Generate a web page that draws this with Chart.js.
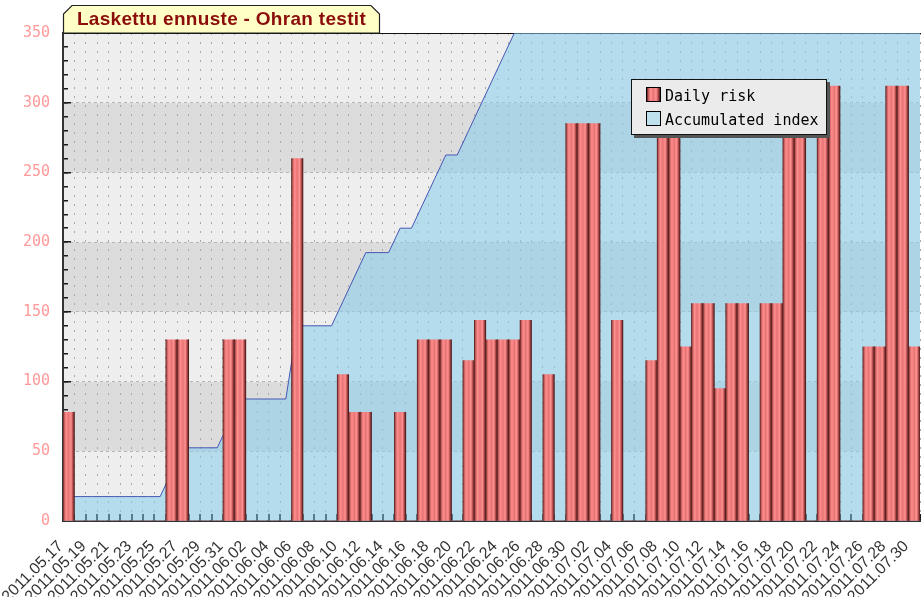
<!DOCTYPE html>
<html><head><meta charset="utf-8">
<script src="https://cdn.jsdelivr.net/npm/chart.js@4.4.1/dist/chart.umd.min.js"></script>
<style>
html,body{margin:0;padding:0;background:#fff;}
#wrap{position:relative;width:921px;height:597px;overflow:hidden;background:#fff;}
#c{position:absolute;left:0;top:0;}
#tab{position:absolute;left:0;top:0;}
#title{position:absolute;left:63px;top:8px;width:317px;height:28px;line-height:28px;text-align:center;font:bold 19px "Liberation Sans",Arial,sans-serif;color:#8c0c0c;letter-spacing:0.3px;white-space:nowrap;}
#legend{position:absolute;left:631px;top:79px;width:194px;height:54px;border:1px solid #111;background:#ebebeb;box-shadow:3px 3px 0 #555;font:15px "DejaVu Sans Mono",monospace;color:#000;}
.item{position:absolute;left:14px;height:16px;}
.sw{position:absolute;left:0;top:0;width:13px;height:13px;border:1px solid #000;}
.lab{position:absolute;left:19px;top:-1px;white-space:nowrap;line-height:20px;}
</style></head>
<body>
<div id="wrap">
<canvas id="c" width="921" height="597"></canvas>
<svg id="tab" width="400" height="40"><polygon points="63.5,33 63.5,14 72,5.5 371,5.5 379.5,14 379.5,33" fill="#ffffc6" stroke="#222" stroke-width="1.2"/></svg>
<div id="title">Laskettu ennuste - Ohran testit</div>
<div id="legend"></div>
</div>
<script>
const dates = [
'2011.05.17','2011.05.18','2011.05.19','2011.05.20','2011.05.21','2011.05.22','2011.05.23','2011.05.24','2011.05.25','2011.05.26',
'2011.05.27','2011.05.28','2011.05.29','2011.05.30','2011.05.31','2011.06.01','2011.06.02','2011.06.03','2011.06.04','2011.06.05',
'2011.06.06','2011.06.07','2011.06.08','2011.06.09','2011.06.10','2011.06.11','2011.06.12','2011.06.13','2011.06.14','2011.06.15',
'2011.06.16','2011.06.17','2011.06.18','2011.06.19','2011.06.20','2011.06.21','2011.06.22','2011.06.23','2011.06.24','2011.06.25',
'2011.06.26','2011.06.27','2011.06.28','2011.06.29','2011.06.30','2011.07.01','2011.07.02','2011.07.03','2011.07.04','2011.07.05',
'2011.07.06','2011.07.07','2011.07.08','2011.07.09','2011.07.10','2011.07.11','2011.07.12','2011.07.13','2011.07.14','2011.07.15',
'2011.07.16','2011.07.17','2011.07.18','2011.07.19','2011.07.20','2011.07.21','2011.07.22','2011.07.23','2011.07.24','2011.07.25',
'2011.07.26','2011.07.27','2011.07.28','2011.07.29','2011.07.30'];

const dailyRisk = [
78,0,0,0,0,0,0,0,0,130,
130,0,0,0,130,130,0,0,0,0,
260,0,0,0,105,78,78,0,0,78,
0,130,130,130,0,115,144,130,130,130,
144,0,105,0,285,285,285,0,144,0,
0,115,285,285,125,156,156,95,156,156,
0,156,156,285,285,0,312,312,0,0,
125,125,312,312,125];

const accumulatedIndex = [
17.5,17.5,17.5,17.5,17.5,17.5,17.5,17.5,17.5,35,
52.5,52.5,52.5,52.5,70,87.5,87.5,87.5,87.5,87.5,
140,140,140,140,157.5,175,192.5,192.5,192.5,210,
210,227.5,245,262.5,262.5,280,297.5,315,332.5,350,
367.5,367.5,385,385,437.5,490,542.5,542.5,560,560,
560,577.5,630,682.5,700,717.5,735,752.5,770,787.5,
787.5,805,822.5,875,927.5,927.5,980,1032.5,1032.5,1032.5,
1050,1067.5,1120,1172.5,1190];

const yTickValues = [0,50,100,150,200,250,300,350];
const seriesNames = ['Daily risk','Accumulated index'];

const barStops = [[0,'#5a2020'],[0.1,'#c05858'],[0.27,'#ff8e8e'],[0.5,'#e87474'],[0.7,'#ff9292'],[0.86,'#b24a4a'],[1,'#4a1818']];
const areaFill = 'rgba(135,206,235,0.55)';

function catWidth(xs){ return xs.getPixelForValue(1) - xs.getPixelForValue(0); }

function barFill(ctx){
  const chart = ctx.chart, xs = chart.scales.x;
  if (!xs || ctx.type !== 'data' || !chart.chartArea) return '#f07878';
  const cx = xs.getPixelForValue(ctx.dataIndex);
  const w = catWidth(xs);
  const g = chart.ctx.createLinearGradient(cx - w/2, 0, cx + w/2, 0);
  barStops.forEach(s => g.addColorStop(s[0], s[1]));
  return g;
}

const bandsPlugin = {
  id: 'bands',
  beforeDraw(chart){
    const {ctx, chartArea: a, scales: {y}} = chart;
    ctx.save();
    for (let i = 0; i < yTickValues.length - 1; i++){
      const y0 = y.getPixelForValue(yTickValues[i]), y1 = y.getPixelForValue(yTickValues[i+1]);
      ctx.fillStyle = i % 2 ? '#dcdcdc' : '#eeeeee';
      ctx.fillRect(a.left, y1, a.right - a.left, y0 - y1);
    }
    ctx.restore();
  }
};

const linePoints = [{x: -0.5, y: accumulatedIndex[0]}]
  .concat(accumulatedIndex.map((v, i) => ({x: i, y: v})))
  .concat([{x: dates.length - 0.5, y: accumulatedIndex[accumulatedIndex.length - 1]}]);

const chart = new Chart(document.getElementById('c'), {
  type: 'bar',
  data: {
    labels: dates,
    datasets: [
      {type: 'bar', label: seriesNames[0], data: dailyRisk, xAxisID: 'x', yAxisID: 'y',
       backgroundColor: barFill, borderWidth: 0, barPercentage: 1, categoryPercentage: 1,
       grouped: false, order: 1},
      {type: 'line', label: seriesNames[1], data: linePoints, xAxisID: 'xLine', yAxisID: 'y',
       borderColor: '#4656b4', borderWidth: 1, backgroundColor: areaFill, fill: 'origin',
       pointRadius: 0, tension: 0, order: 2}
    ]
  },
  options: {
    responsive: false, animation: false,
    layout: {padding: {top: 33, right: 1, left: 0, bottom: 0}},
    plugins: {legend: {display: false}, title: {display: false}, tooltip: {enabled: false}},
    scales: {
      x: {
        type: 'category', labels: dates, offset: true, position: 'bottom',
        grid: {offset: true, color: '#a9a9a9', lineWidth: 1, drawTicks: false},
        border: {display: true, color: '#333', width: 2, dash: [2, 7]},
        ticks: {autoSkip: false, maxRotation: 45, minRotation: 45, color: '#333',
          font: {family: 'Liberation Sans', size: 16}, padding: 16, labelOffset: -8,
          callback: (v, i) => (i % 2 === 0 ? dates[i] : '')},
        afterFit: s => { s.height = 76; s.paddingLeft = 0; s.paddingRight = 0; }
      },
      xTicks: {
        type: 'category', labels: dates, offset: true, position: 'bottom', z: 1,
        grid: {offset: true, color: '#1a1a1a', lineWidth: 2, drawTicks: false},
        border: {display: false, dash: [0, 481, 7, 3000]},
        ticks: {display: false},
        afterFit: s => { s.height = 0; s.paddingLeft = 0; s.paddingRight = 0; }
      },
      xTop: {
        type: 'category', labels: dates, offset: true, position: 'top',
        grid: {display: false, drawTicks: false},
        border: {display: true, color: '#111', width: 1},
        ticks: {display: false},
        afterFit: s => { s.height = 0; s.paddingLeft = 0; s.paddingRight = 0; }
      },
      xLine: {type: 'linear', display: false, offset: false, grid: {offset: false},
        min: -0.5, max: dates.length - 0.5},
      y: {
        min: 0, max: 350, position: 'left',
        afterBuildTicks: s => { s.ticks = yTickValues.map(v => ({value: v})); },
        grid: {color: '#b5b5b5', lineWidth: 1, drawTicks: false},
        border: {display: true, color: '#333', width: 2, dash: [3, 3]},
        ticks: {color: '#ff9999', font: {family: 'DejaVu Sans Mono', size: 15}, padding: 13},
        afterFit: s => { s.width = 63; s.paddingTop = 0; s.paddingBottom = 0; }
      },
      yMinor: {
        min: 0, max: 350, position: 'left', z: 1,
        ticks: {display: false, stepSize: 10},
        grid: {color: '#1a1a1a', lineWidth: 1.5, drawTicks: false},
        border: {display: false, dash: [5, 3000]},
        afterFit: s => { s.width = 0; s.paddingTop = 0; s.paddingBottom = 0; }
      },
      yMajor: {
        min: 0, max: 350, position: 'left', z: 1,
        ticks: {display: false, stepSize: 50},
        grid: {color: '#1a1a1a', lineWidth: 1.5, drawTicks: false},
        border: {display: false, dash: [8, 3000]},
        afterFit: s => { s.width = 0; s.paddingTop = 0; s.paddingBottom = 0; }
      }
    }
  },
  plugins: [bandsPlugin]
});

// make each bar fill its whole day slot, as in the original
chart.data.datasets[0].barThickness = catWidth(chart.scales.x);
chart.update('none');

// HTML legend built from the chart's datasets
const legendEl = document.getElementById('legend');
const swatchStyles = [
  'background:linear-gradient(to right,' + barStops.map(s => s[1] + ' ' + (s[0]*100) + '%').join(',') + ')',
  'background:#bfe1ee'
];
chart.data.datasets.forEach((ds, i) => {
  const item = document.createElement('div');
  item.className = 'item';
  item.style.top = (7 + i * 24) + 'px';
  const sw = document.createElement('div');
  sw.className = 'sw';
  sw.setAttribute('style', swatchStyles[i]);
  const lab = document.createElement('div');
  lab.className = 'lab';
  lab.textContent = ds.label;
  item.appendChild(sw); item.appendChild(lab);
  legendEl.appendChild(item);
});
</script>
</body></html>
